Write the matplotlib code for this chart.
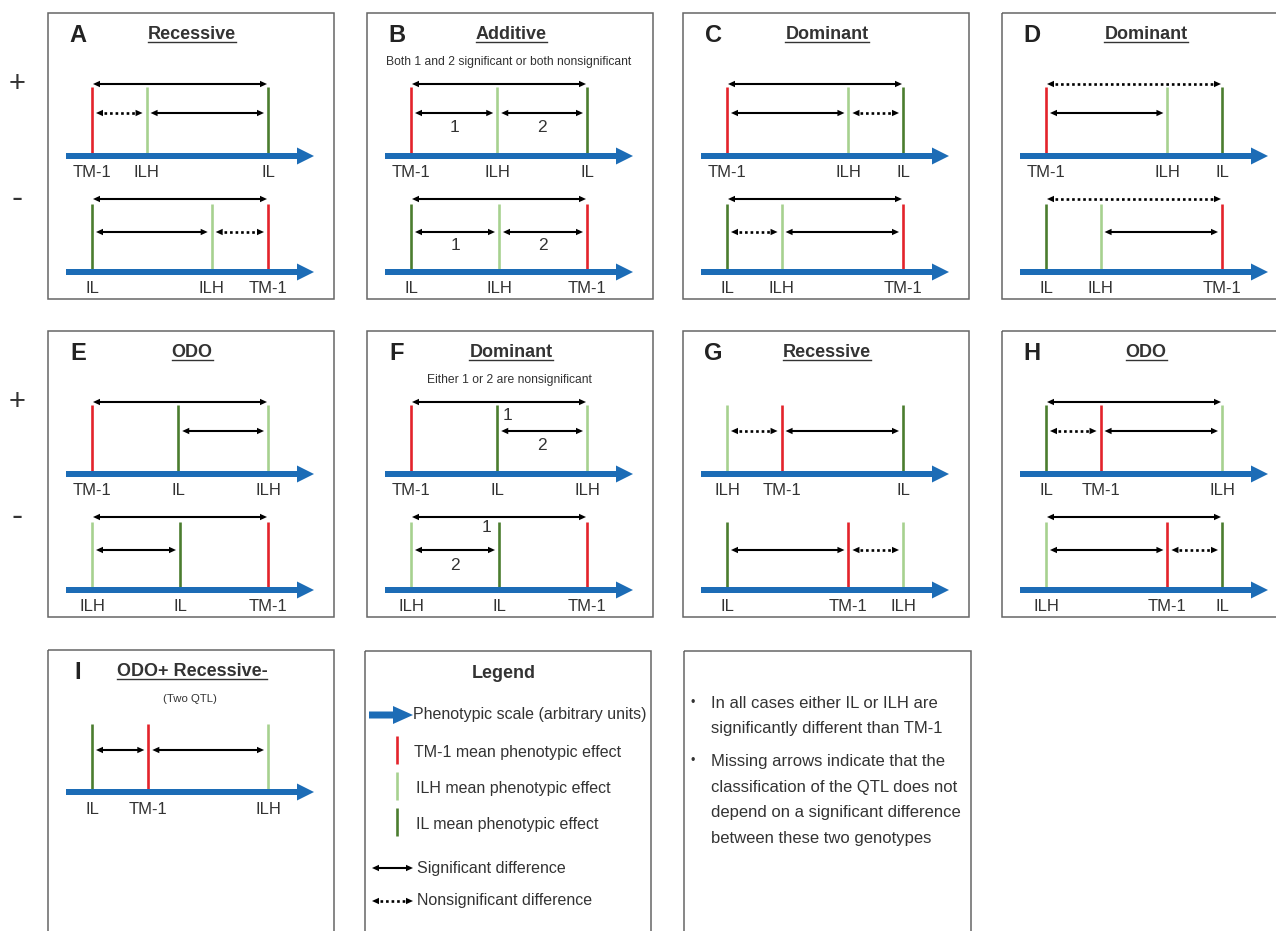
import matplotlib.pyplot as plt
from matplotlib.patches import FancyArrow, Rectangle

plt.rcParams['font.family'] = ['Liberation Sans', 'DejaVu Sans']

RED = '#e3232b'
LIGHT = '#a7d18f'
DARK = '#4b7d2f'
BLUE = '#1c6cb6'
TXT = '#333333'
GENO_COLOR = {'TM-1': RED, 'ILH': LIGHT, 'IL': DARK}

letters = ['A', 'B', 'C', 'D', 'E', 'F', 'G', 'H', 'I']
titles = ['Recessive', 'Additive', 'Dominant', 'Dominant', 'ODO', 'Dominant',
          'Recessive', 'ODO', 'ODO+ Recessive-']
notes = ['', 'Both 1 and 2 significant or both nonsignificant', '', '', '',
         'Either 1 or 2 are nonsignificant', '', '', '(Two QTL)']

# position of each genotype on the phenotypic scale (0 = lowest, 10 = highest)
plus_pos = [
    {'TM-1': 0, 'ILH': 3.1, 'IL': 10},
    {'TM-1': 0, 'ILH': 4.9, 'IL': 10},
    {'TM-1': 0, 'ILH': 6.9, 'IL': 10},
    {'TM-1': 0, 'ILH': 6.9, 'IL': 10},
    {'TM-1': 0, 'IL': 4.9, 'ILH': 10},
    {'TM-1': 0, 'IL': 4.9, 'ILH': 10},
    {'ILH': 0, 'TM-1': 3.1, 'IL': 10},
    {'IL': 0, 'TM-1': 3.1, 'ILH': 10},
    {'IL': 0, 'TM-1': 3.2, 'ILH': 10},
]
minus_pos = [
    {'IL': 0, 'ILH': 6.8, 'TM-1': 10},
    {'IL': 0, 'ILH': 5.0, 'TM-1': 10},
    {'IL': 0, 'ILH': 3.1, 'TM-1': 10},
    {'IL': 0, 'ILH': 3.1, 'TM-1': 10},
    {'ILH': 0, 'IL': 5.0, 'TM-1': 10},
    {'ILH': 0, 'IL': 5.0, 'TM-1': 10},
    {'IL': 0, 'TM-1': 6.9, 'ILH': 10},
    {'ILH': 0, 'TM-1': 6.9, 'IL': 10},
    None,
]

# (from, to, significant, level)   level 0 = spanning arrow, 1 = between neighbours
plus_arrows = [
    [('TM-1', 'IL', True, 0), ('TM-1', 'ILH', False, 1), ('ILH', 'IL', True, 1)],
    [('TM-1', 'IL', True, 0), ('TM-1', 'ILH', True, 1), ('ILH', 'IL', True, 1)],
    [('TM-1', 'IL', True, 0), ('TM-1', 'ILH', True, 1), ('ILH', 'IL', False, 1)],
    [('TM-1', 'IL', False, 0), ('TM-1', 'ILH', True, 1)],
    [('TM-1', 'ILH', True, 0), ('IL', 'ILH', True, 1)],
    [('TM-1', 'ILH', True, 0), ('IL', 'ILH', True, 1)],
    [('ILH', 'TM-1', False, 1), ('TM-1', 'IL', True, 1)],
    [('IL', 'ILH', True, 0), ('IL', 'TM-1', False, 1), ('TM-1', 'ILH', True, 1)],
    [('IL', 'TM-1', True, 1), ('TM-1', 'ILH', True, 1)],
]
minus_arrows = [
    [('IL', 'TM-1', True, 0), ('IL', 'ILH', True, 1), ('ILH', 'TM-1', False, 1)],
    [('IL', 'TM-1', True, 0), ('IL', 'ILH', True, 1), ('ILH', 'TM-1', True, 1)],
    [('IL', 'TM-1', True, 0), ('IL', 'ILH', False, 1), ('ILH', 'TM-1', True, 1)],
    [('IL', 'TM-1', False, 0), ('ILH', 'TM-1', True, 1)],
    [('ILH', 'TM-1', True, 0), ('ILH', 'IL', True, 1)],
    [('ILH', 'TM-1', True, 0), ('ILH', 'IL', True, 1)],
    [('IL', 'TM-1', True, 1), ('TM-1', 'ILH', False, 1)],
    [('ILH', 'IL', True, 0), ('ILH', 'TM-1', True, 1), ('TM-1', 'IL', False, 1)],
    [],
]

# numbered comparisons: (panel, row, text, scale position, level, drop below arrow)
number_labels = [
    (1, 0, '1', 2.45, 1, 14), (1, 0, '2', 7.45, 1, 14),
    (1, 1, '1', 2.5, 1, 14), (1, 1, '2', 7.5, 1, 14),
    (5, 0, '1', 5.5, 0, 13), (5, 0, '2', 7.45, 1, 14),
    (5, 1, '1', 4.3, 0, 11), (5, 1, '2', 2.5, 1, 15),
]

legend_items = ['TM-1 mean phenotypic effect', 'ILH mean phenotypic effect',
                'IL mean phenotypic effect']
legend_colors = [RED, LIGHT, DARK]
note_bullets = [
    ['In all cases either IL or ILH are', 'significantly different than TM-1'],
    ['Missing arrows indicate that the', 'classification of the QTL does not',
     'depend on a significant difference', 'between these two genotypes'],
]

# layout (pixels)
col_x = [48, 367, 683, 1002]
row_y = [13, 331, 650]
BOX_W, BOX_H = 286, 286
# per sub-row offsets: long arrow, short arrow, line top, axis, label baseline
ROW_OFF = [(71, 100, 74, 143, 164), (186, 219, 191, 259, 280)]


def sx(x0, v):
    return x0 + 44 + v * 17.6


def dbl_arrow(ax, x1, x2, y, solid):
    if x1 > x2:
        x1, x2 = x2, x1
    hl, hw = 7, 3.2
    if solid:
        ax.plot([x1 + hl - 1, x2 - hl + 1], [y, y], color='black', lw=1.5,
                solid_capstyle='butt', zorder=4)
    else:
        ax.plot([x1 + hl + 1, x2 - hl - 1], [y, y], color='black', lw=1.9,
                dashes=(1.0, 1.1), zorder=4)
    ax.fill([x2, x2 - hl, x2 - hl], [y, y - hw, y + hw], color='black', lw=0, zorder=4)
    ax.fill([x1, x1 + hl, x1 + hl], [y, y - hw, y + hw], color='black', lw=0, zorder=4)


fig = plt.figure(figsize=(12.76, 9.31), dpi=100)
ax = fig.add_axes([0, 0, 1, 1])
ax.set_xlim(0, 1276)
ax.set_ylim(931, 0)
ax.axis('off')

# + / - row markers
for ry in row_y[:2]:
    ax.text(17, ry + 71, '+', fontsize=21, color=TXT, ha='center', va='center')
    ax.text(17, ry + 186, '-', fontsize=24, color=TXT, ha='center', va='center')

title_texts = []
for i, letter in enumerate(letters):
    x0 = col_x[i % 4]
    y0 = row_y[i // 4]
    ax.add_patch(Rectangle((x0, y0), BOX_W, BOX_H if i < 8 else 320, fill=False,
                           edgecolor='#666666', lw=1.1, zorder=1))
    ax.text(x0 + 30, y0 + 29, letter, fontsize=17, fontweight='bold', color='#222222',
            ha='center', va='baseline')
    t = ax.text(x0 + 144, y0 + 26, titles[i], fontsize=13, fontweight='bold',
                color=TXT, ha='center', va='baseline')
    title_texts.append(t)
    if notes[i]:
        ax.text(x0 + 142, y0 + 49, notes[i], fontsize=8.7 if i < 8 else 8.2,
                color=TXT, ha='center', va='center')

    rows = [(plus_pos[i], plus_arrows[i]), (minus_pos[i], minus_arrows[i])]
    for r, (pos, arrows) in enumerate(rows):
        if pos is None:
            continue
        y_long, y_short, y_top, y_axis, y_lab = [y0 + o for o in ROW_OFF[r]]
        if i == 8:
            y_axis -= 1
        for g, v in pos.items():
            ax.plot([sx(x0, v), sx(x0, v)], [y_top, y_axis], color=GENO_COLOR[g],
                    lw=1.9, solid_capstyle='butt', zorder=2)
            ax.text(sx(x0, v), y_lab, g, fontsize=12, color=TXT, ha='center',
                    va='baseline')
        ax.add_patch(FancyArrow(x0 + 18, y_axis, 248, 0, width=6, head_width=17,
                                head_length=17, length_includes_head=True,
                                color=BLUE, lw=0, zorder=3))
        for g1, g2, sig, level in arrows:
            a, b = sorted([sx(x0, pos[g1]), sx(x0, pos[g2])])
            if level == 0:
                dbl_arrow(ax, a + 1, b - 1, y_long, sig)
            else:
                dbl_arrow(ax, a + 4, b - 4, y_short, sig)

for p, r, txt, v, level, drop in number_labels:
    x0 = col_x[p % 4]
    y0 = row_y[p // 4]
    ya = y0 + ROW_OFF[r][level]
    ax.text(sx(x0, v), ya + drop, txt, fontsize=12.5, color=TXT, ha='center',
            va='center')

# legend box
lx0, ly0 = 365, 651
ax.add_patch(Rectangle((lx0, ly0), 286, 320, fill=False, edgecolor='#666666', lw=1.1))
ax.text(lx0 + 139, ly0 + 23, 'Legend', fontsize=13, fontweight='bold', color=TXT,
        ha='center', va='center')
ax.add_patch(FancyArrow(369, 715, 44, 0, width=7, head_width=18, head_length=20,
                        length_includes_head=True, color=BLUE, lw=0))
ax.text(413, 715, 'Phenotypic scale (arbitrary units)', fontsize=11.5, color=TXT,
        va='center')
for k, (lab, c) in enumerate(zip(legend_items, legend_colors)):
    yc = 750 + k * 36
    ax.plot([397, 397], [yc - 14, yc + 14], color=c, lw=1.9, solid_capstyle='butt')
    ax.text(414 if k == 0 else 416, yc + 2, lab, fontsize=11.5, color=TXT, va='center')
dbl_arrow(ax, 372, 413, 868, True)
ax.text(417, 868, 'Significant difference', fontsize=11.5, color=TXT, va='center')
dbl_arrow(ax, 372, 413, 901, False)
ax.text(417, 901, 'Nonsignificant difference', fontsize=11.5, color=TXT, va='center')

# notes box
ax.add_patch(Rectangle((684, 651), 287, 320, fill=False, edgecolor='#666666', lw=1.1))
yline = 703
for lines in note_bullets:
    ax.text(693, yline, '\u2022', fontsize=9, color=TXT, ha='center', va='center')
    for ln in lines:
        ax.text(711, yline, ln, fontsize=12, color=TXT, va='center')
        yline += 25.7
    yline += 7

# underline the panel titles
fig.canvas.draw()
renderer = fig.canvas.get_renderer()
for t in title_texts:
    bb = t.get_window_extent(renderer).transformed(ax.transData.inverted())
    x_a, x_b = sorted([bb.x0, bb.x1])
    yb = t.get_position()[1] + 3
    ax.plot([x_a, x_b], [yb, yb], color=TXT, lw=1.0)

fig.savefig('out.png', dpi=100)
